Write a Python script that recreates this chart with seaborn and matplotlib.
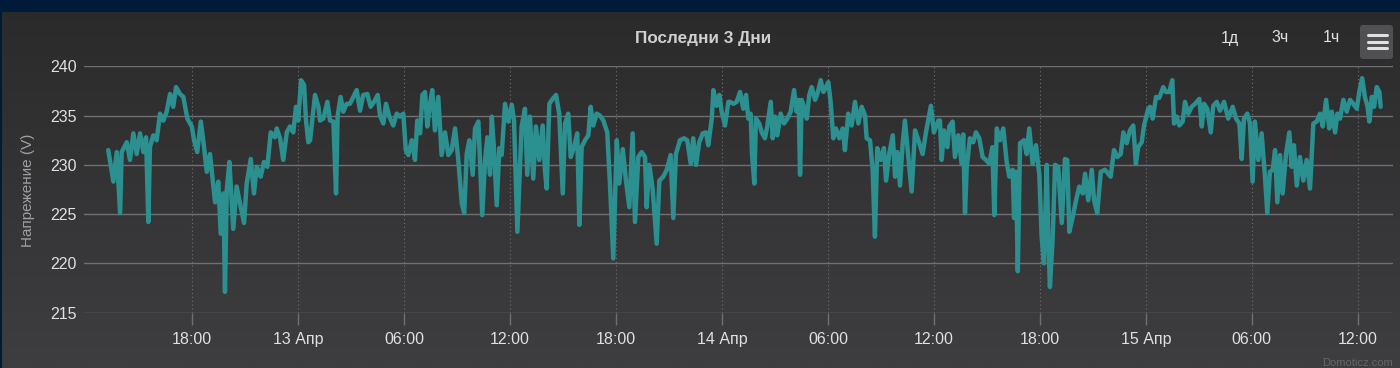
import numpy as np
import pandas as pd
import matplotlib
matplotlib.use("Agg")
import matplotlib.pyplot as plt
import seaborn as sns
from matplotlib.patches import FancyBboxPatch, Rectangle
from matplotlib.lines import Line2D
from matplotlib.colors import LinearSegmentedColormap
from matplotlib.transforms import IdentityTransform

title = "Последни 3 Дни"
y_label = "Напрежение (V)"
range_buttons = ["1д", "3ч", "1ч"]
credit = "Domoticz.com"

# hours since 12 Apr 00:00
hours = [
    13.24, 13.53, 13.72, 13.91, 14.00, 14.29, 14.47, 14.66, 14.85, 15.04, 15.23, 15.38, 15.51, 15.60, 15.79, 15.98,
    16.17, 16.36, 16.55, 16.74, 16.92, 17.08, 17.30, 17.49, 17.72, 17.97, 18.10, 18.28, 18.48, 18.62, 18.82, 19.00,
    19.29, 19.47, 19.61, 19.76, 19.85, 19.95, 20.10, 20.32, 20.51, 20.70, 20.93, 21.08, 21.31, 21.49, 21.65, 21.87,
    22.06, 22.25, 22.44, 22.68, 22.78, 22.97, 23.15, 23.35, 23.53, 23.72, 23.87, 24.00, 24.16, 24.33, 24.44, 24.57,
    24.67, 24.95, 25.14, 25.23, 25.42, 25.65, 25.80, 25.99, 26.14, 26.23, 26.40, 26.55, 26.74, 26.93, 27.12, 27.31,
    27.50, 27.68, 27.91, 28.10, 28.29, 28.50, 28.63, 28.82, 28.97, 29.16, 29.38, 29.58, 29.76, 29.95, 30.09, 30.23,
    30.43, 30.61, 30.74, 30.90, 31.03, 31.18, 31.31, 31.46, 31.59, 31.74, 31.93, 32.12, 32.31, 32.50, 32.69, 32.88,
    33.06, 33.26, 33.40, 33.54, 33.69, 33.88, 34.01, 34.20, 34.42, 34.58, 34.71, 34.86, 34.96, 35.09, 35.24, 35.39,
    35.52, 35.71, 35.90, 36.09, 36.22, 36.41, 36.65, 36.84, 36.97, 37.12, 37.31, 37.46, 37.65, 37.84, 37.97, 38.07,
    38.22, 38.41, 38.60, 38.78, 38.98, 39.11, 39.29, 39.43, 39.62, 39.80, 39.92, 40.05, 40.24, 40.43, 40.56, 40.71,
    40.90, 41.09, 41.28, 41.50, 41.66, 41.84, 42.04, 42.18, 42.38, 42.56, 42.75, 42.94, 43.07, 43.26, 43.45, 43.64,
    43.73, 43.88, 44.07, 44.30, 44.45, 44.67, 44.87, 45.09, 45.24, 45.39, 45.62, 45.85, 46.03, 46.23, 46.37, 46.53,
    46.71, 46.91, 47.09, 47.22, 47.42, 47.51, 47.70, 47.85, 47.98, 48.17, 48.36, 48.45, 48.64, 48.83, 49.02, 49.20,
    49.36, 49.49, 49.62, 49.70, 49.83, 49.92, 50.11, 50.25, 50.43, 50.56, 50.76, 50.87, 51.00, 51.13, 51.32, 51.51,
    51.70, 51.89, 52.08, 52.23, 52.34, 52.42, 52.51, 52.64, 52.80, 52.94, 53.08, 53.27, 53.40, 53.59, 53.74, 53.89,
    54.02, 54.15, 54.30, 54.45, 54.64, 54.83, 54.96, 55.15, 55.34, 55.53, 55.72, 55.91, 56.10, 56.19, 56.38, 56.53,
    56.66, 56.79, 56.99, 57.17, 57.29, 57.47, 57.67, 57.80, 57.93, 58.08, 58.23, 58.36, 58.55, 58.74, 58.93, 59.12,
    59.36, 59.55, 59.83, 60.00, 60.25, 60.34, 60.44, 60.57, 60.76, 60.87, 61.06, 61.19, 61.38, 61.57, 61.66, 61.76,
    61.86, 62.04, 62.23, 62.38, 62.57, 62.76, 62.95, 63.14, 63.31, 63.42, 63.56, 63.74, 63.93, 64.12, 64.27, 64.46,
    64.54, 64.65, 64.75, 64.88, 65.10, 65.25, 65.40, 65.59, 65.78, 65.97, 66.10, 66.23, 66.39, 66.48, 66.57, 66.73,
    66.86, 67.04, 67.24, 67.42, 67.55, 67.67, 67.86, 68.05, 68.23, 68.43, 68.56, 68.74, 68.94, 69.07, 69.25, 69.45,
    69.69, 70.01, 70.20, 70.39, 70.58, 70.73, 70.92, 71.10, 71.29, 71.44, 71.57, 71.77, 71.90, 72.14, 72.24, 72.39,
    72.58, 72.76, 72.99, 73.14, 73.33, 73.50, 73.60, 73.75, 73.90, 74.09, 74.22, 74.41, 74.60, 74.79, 75.03, 75.17,
    75.30, 75.48, 75.68, 75.82, 76.02, 76.20, 76.43, 76.67, 76.92, 77.11, 77.30, 77.43, 77.56, 77.75, 77.90, 78.05,
    78.18, 78.37, 78.56, 78.75, 78.88, 79.03, 79.19, 79.32, 79.45, 79.60, 79.75, 79.94, 80.13, 80.26, 80.39, 80.55,
    80.73, 80.92, 81.11, 81.30, 81.49, 81.68, 81.87, 82.02, 82.21, 82.39, 82.53, 82.72, 82.85, 83.00, 83.19, 83.38,
    83.57, 83.75, 83.95, 84.09, 84.25, 84.42, 84.55, 84.66, 84.80, 84.93, 85.08, 85.23, 85.30,
]

volts = [
    231.5, 228.3, 231.3, 225.1, 231.3, 232.3, 230.5, 233.2, 231.1, 233.2, 231.3, 232.8, 224.2, 231.8, 233.0, 232.5,
    235.2, 234.5, 235.4, 237.2, 235.9, 237.9, 237.2, 236.9, 234.7, 233.9, 232.5, 231.3, 234.4, 232.5, 229.3, 231.1,
    226.2, 228.3, 223.0, 227.1, 217.1, 227.4, 230.3, 223.5, 227.8, 226.1, 224.1, 228.1, 230.6, 227.1, 229.8, 228.8,
    230.3, 229.8, 233.3, 232.8, 233.7, 232.7, 230.5, 233.3, 233.9, 233.3, 235.9, 234.5, 238.6, 238.1, 234.5, 232.3,
    232.5, 237.1, 235.9, 234.5, 234.7, 236.4, 234.5, 234.4, 227.1, 235.0, 236.9, 235.4, 236.2, 236.2, 236.9, 237.6,
    235.5, 237.1, 237.2, 235.9, 236.4, 237.1, 235.0, 234.2, 236.2, 234.9, 234.0, 235.2, 234.9, 235.2, 231.5, 231.0,
    232.5, 230.5, 234.5, 233.2, 237.1, 237.4, 233.9, 236.2, 237.6, 233.5, 236.9, 231.0, 233.3, 231.0, 231.5, 233.7,
    230.6, 226.1, 225.1, 231.1, 232.5, 229.0, 233.7, 234.4, 224.9, 230.5, 232.8, 229.0, 234.9, 231.5, 225.9, 231.7,
    231.0, 236.2, 234.4, 236.1, 234.5, 223.2, 233.9, 235.7, 229.0, 234.9, 228.6, 233.9, 230.5, 234.0, 229.5, 227.6,
    236.2, 236.7, 237.1, 235.2, 227.1, 234.2, 235.2, 230.8, 231.8, 233.2, 223.9, 231.8, 232.5, 233.0, 235.9, 234.0,
    235.2, 235.0, 234.5, 233.3, 227.8, 220.5, 232.5, 228.1, 231.6, 228.4, 225.7, 233.2, 224.2, 230.8, 231.3, 230.8,
    225.7, 230.0, 227.6, 222.0, 228.4, 228.8, 229.5, 231.0, 224.6, 231.1, 232.5, 232.7, 232.5, 230.1, 232.7, 230.0,
    232.3, 233.2, 233.3, 232.0, 234.7, 237.6, 236.0, 237.1, 235.4, 234.0, 236.4, 236.4, 236.2, 236.4, 237.4, 235.7,
    237.1, 234.7, 235.2, 231.0, 228.1, 234.7, 234.2, 233.3, 232.7, 233.9, 236.4, 232.7, 234.9, 233.0, 235.2, 234.2,
    234.7, 235.4, 237.6, 235.4, 236.6, 229.0, 236.6, 235.9, 234.7, 237.1, 237.9, 236.6, 237.2, 238.6, 237.4, 237.9,
    238.4, 236.4, 232.7, 233.7, 232.7, 233.7, 231.5, 235.2, 234.0, 236.4, 234.2, 235.9, 235.0, 232.7, 232.5, 229.5,
    222.7, 231.7, 230.5, 231.7, 228.4, 231.1, 233.0, 228.8, 231.3, 227.9, 232.2, 234.5, 230.8, 227.3, 233.5, 232.5,
    231.1, 233.3, 236.0, 233.3, 234.5, 234.5, 230.5, 233.5, 231.8, 233.9, 234.4, 230.8, 233.0, 230.1, 233.1, 225.1,
    229.8, 232.7, 232.3, 233.3, 232.7, 230.8, 230.5, 230.1, 231.8, 224.9, 233.7, 232.5, 233.7, 230.3, 228.8, 229.5,
    224.6, 229.3, 219.2, 232.2, 232.5, 231.1, 233.7, 230.1, 232.0, 229.0, 222.7, 220.0, 230.0, 222.5, 217.6, 222.7,
    230.0, 229.8, 224.1, 230.6, 230.5, 223.2, 224.7, 226.4, 227.8, 227.1, 229.1, 226.4, 229.5, 226.4, 225.1, 229.3,
    229.5, 228.8, 231.5, 230.8, 231.1, 233.3, 232.2, 233.5, 234.0, 230.1, 231.8, 232.3, 234.0, 235.7, 235.9, 234.7,
    236.9, 236.8, 237.9, 237.4, 237.4, 238.6, 234.2, 234.9, 234.0, 234.4, 236.4, 235.2, 235.9, 236.2, 236.7, 233.9,
    236.2, 235.7, 233.3, 236.0, 236.4, 235.5, 236.4, 234.7, 235.9, 234.7, 234.2, 230.6, 234.7, 235.2, 234.2, 228.3,
    234.4, 230.5, 233.2, 228.8, 225.1, 229.3, 229.5, 231.5, 226.2, 231.0, 227.1, 231.1, 233.3, 229.8, 232.0, 227.9,
    230.8, 228.4, 230.5, 227.6, 234.2, 234.4, 235.2, 233.9, 236.6, 233.7, 235.4, 233.3, 235.2, 234.7, 236.6, 235.4,
    236.6, 236.2, 235.7, 237.4, 238.8, 236.8, 236.0, 234.4, 236.9, 235.9, 237.9, 237.4, 235.9,
]

tick_hours = [18, 24, 30, 36, 42, 48, 54, 60, 66, 72, 78, 84]
tick_labels = ["18:00", "13 Апр", "06:00", "12:00", "18:00", "14 Апр",
               "06:00", "12:00", "18:00", "15 Апр", "06:00", "12:00"]
y_ticks = [215, 220, 225, 230, 235, 240]

df = pd.DataFrame({"hours": hours, "volts": volts})

sns.set_theme(style="dark")
plt.rcParams["font.family"] = ["Liberation Sans", "DejaVu Sans"]

W, H = 1400, 368
fig = plt.figure(figsize=(W / 100, H / 100), dpi=100)

# background gradient
bg = fig.add_axes([0, 0, 1, 1], zorder=-10)
grad = np.linspace(0, 1, 256).reshape(-1, 1)
cmap = LinearSegmentedColormap.from_list("bg", ["#2a2a2b", "#3e3e40"])
bg.imshow(grad, aspect="auto", cmap=cmap, extent=[0, 1, 0, 1], origin="upper")
bg.add_patch(Rectangle((0, 1 - 12 / H), 1, 12 / H, color="#001b3a", lw=0))
bg.add_patch(Rectangle((0, 0), 1.5 / W, 1, color="#001b3a", lw=0))
bg.set_xlim(0, 1)
bg.set_ylim(0, 1)
bg.set_axis_off()

ax = fig.add_axes([84 / W, 1 - 313 / H, 1309 / W, 247 / H])
ax.patch.set_alpha(0)
sns.lineplot(data=df, x="hours", y="volts", ax=ax, color="#2b908f", linewidth=3.2,
             sort=False, estimator=None, solid_joinstyle="round", solid_capstyle="round")

ax.set_xlim(11.866, 86.0)
ax.set_ylim(214.96, 240.04)
ax.set_yticks(y_ticks)
ax.set_xticks(tick_hours)
ax.set_xticklabels(tick_labels)
ax.set_xlabel("")
ax.set_ylabel("")
for s in ax.spines.values():
    s.set_visible(False)

ax.yaxis.grid(True, color="#707073", linewidth=1.0, linestyle="-")
ax.xaxis.grid(True, color="#707073", linewidth=0.8, linestyle=(0, (1, 2.5)))
ax.tick_params(axis="x", bottom=True, length=8.6, width=1, color="#707073", pad=5,
               labelsize=11.5, labelcolor="#E0E0E3", direction="out")
ax.tick_params(axis="y", left=False, length=0, pad=5, labelsize=11.5, labelcolor="#E0E0E3")

# texts
fig.text(703 / W, 1 - 38 / H, title, ha="center", va="center", fontsize=12.3,
         fontweight="bold", color="#D0D0D3")
fig.text(28 / W, 1 - 190 / H, y_label, ha="center", va="center", rotation=90,
         fontsize=11, color="#A0A0A3")
for label, cx in zip(range_buttons, [1230, 1280, 1331]):
    fig.text(cx / W, 1 - 38 / H, label, ha="center", va="center", fontsize=11.5, color="#E0E0E3")
fig.text(1393 / W, 1 - 363 / H, credit, ha="right", va="center", fontsize=8, color="#666666")

# menu button
btn = FancyBboxPatch((1360, H - 59), 33, 34, boxstyle="round,pad=0,rounding_size=3",
                     transform=IdentityTransform(), facecolor="#505053", edgecolor="none")
fig.add_artist(btn)
for yy in [35, 41.5, 48]:
    fig.add_artist(Line2D([1367.5, 1386.5], [H - yy, H - yy], transform=IdentityTransform(),
                          color="#E0E0E3", lw=2.2, solid_capstyle="round"))

fig.savefig("out.png", dpi=100)
